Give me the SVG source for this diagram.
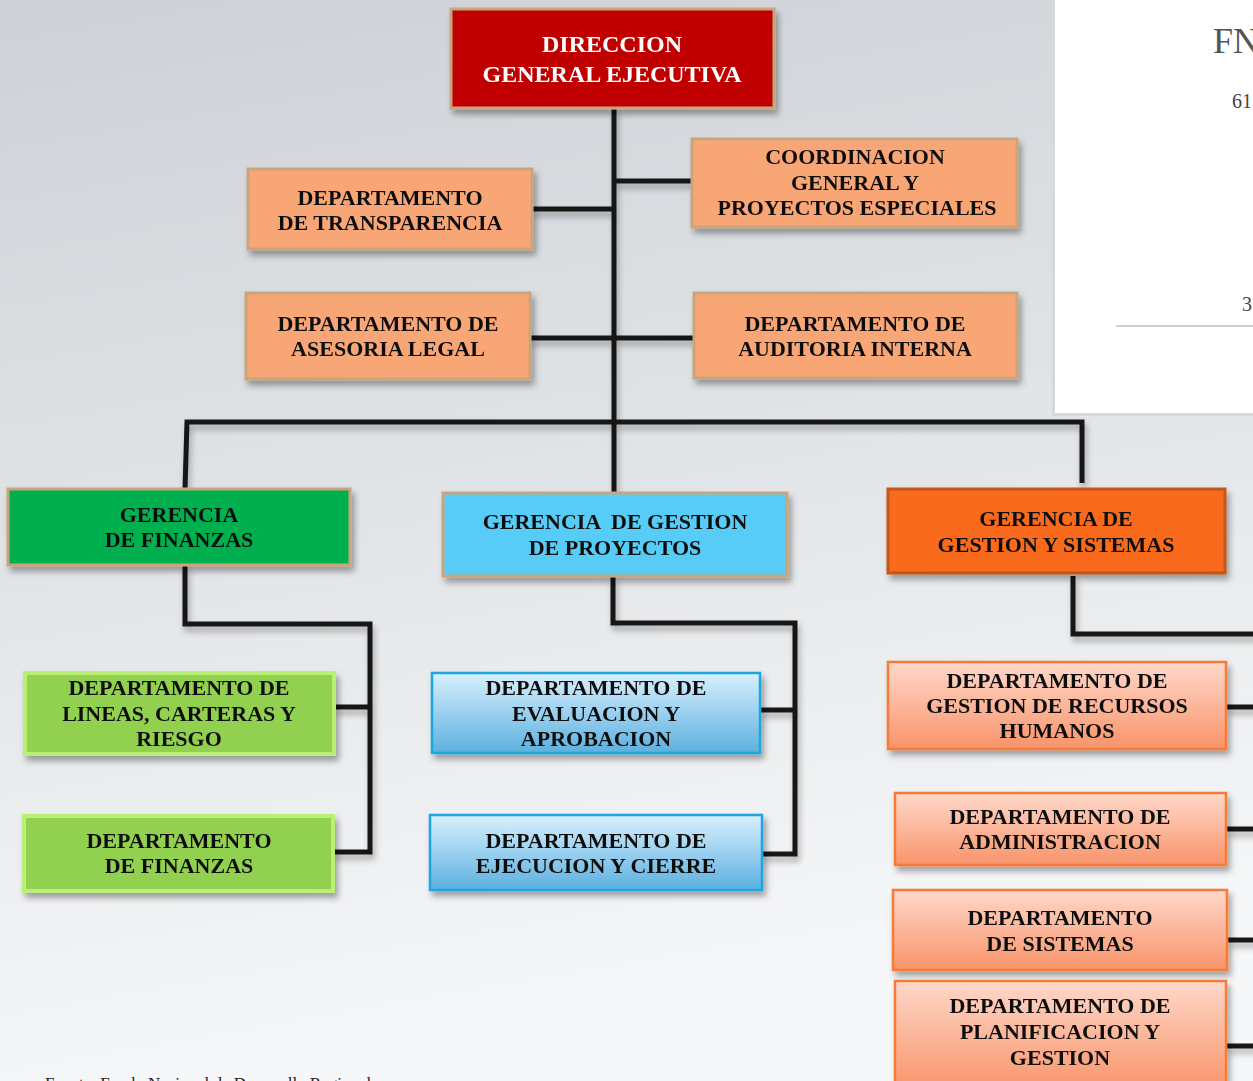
<svg xmlns="http://www.w3.org/2000/svg" width="1253" height="1081" viewBox="0 0 1253 1081">
<defs>
<linearGradient id="bg" x1="0" y1="0" x2="0.2" y2="1">
<stop offset="0" stop-color="#cdd1d6"/>
<stop offset="0.45" stop-color="#dfe2e5"/>
<stop offset="1" stop-color="#f6f7f8"/>
</linearGradient>
<linearGradient id="gBlue" x1="0" y1="0" x2="0" y2="1">
<stop offset="0" stop-color="#d8f0fd"/>
<stop offset="1" stop-color="#5cb0e0"/>
</linearGradient>
<linearGradient id="gPeach" x1="0" y1="0" x2="0" y2="1">
<stop offset="0" stop-color="#ffd8ca"/>
<stop offset="1" stop-color="#f8946a"/>
</linearGradient>
<filter id="sh" x="-10%" y="-20%" width="130%" height="150%">
<feDropShadow dx="3" dy="5" stdDeviation="3" flood-color="#000" flood-opacity="0.35"/>
</filter>
<filter id="lsh" x="-5%" y="-5%" width="110%" height="110%">
<feDropShadow dx="2" dy="5" stdDeviation="3" flood-color="#000" flood-opacity="0.3"/>
</filter>
<style>
.t{font-family:"Liberation Serif","Times New Roman",serif;font-weight:bold;font-size:22px;fill:#111;text-anchor:middle}
.w{fill:#fff;font-size:24px}
.tan{stroke:#c9a57e;stroke-width:3}
.sal{fill:#f9a677}
.lime{fill:#92d050;stroke:#b9ef74;stroke-width:4}
.blue{fill:url(#gBlue);stroke:#1ea5de;stroke-width:2.5}
.peach{fill:url(#gPeach);stroke:#f77a36;stroke-width:2.5}
.c{fill:none;stroke:#141414;stroke-width:5;stroke-linejoin:miter}
</style>
</defs>
<rect width="1253" height="1081" fill="url(#bg)"/>

<!-- side panel -->
<g id="panel">
<rect x="1052" y="-2" width="205" height="418" fill="#d8d8d8"/>
<rect x="1055" y="0" width="200" height="413" fill="#ffffff"/>
<text x="1213" y="53" font-family="Liberation Serif, serif" font-size="36" fill="#555">FN</text>
<text x="1232" y="108" font-family="Liberation Serif, serif" font-size="20" fill="#444">61</text>
<text x="1242" y="311" font-family="Liberation Serif, serif" font-size="20" fill="#444">3</text>
<line x1="1116" y1="326" x2="1253" y2="326" stroke="#cfcfcf" stroke-width="2"/>
</g>

<!-- connectors -->
<g id="connectors" filter="url(#lsh)">
<path class="c" d="M614 108 V492"/>
<path class="c" d="M614 181 H692"/>
<path class="c" d="M532 209 H614"/>
<path class="c" d="M530 338 H694"/>
<path class="c" d="M185 489 L187 422 H1082 V483"/>
<path class="c" d="M185 565 V624 H370 V852 H333"/>
<path class="c" d="M334 707 H370"/>
<path class="c" d="M613 577 V623 H795 V854 H762"/>
<path class="c" d="M761 710 H795"/>
<path class="c" d="M1073 576 V634 H1260"/>
<path class="c" d="M1226 707 H1260"/>
<path class="c" d="M1227 829 H1260"/>
<path class="c" d="M1228 940 H1260"/>
<path class="c" d="M1227 1046 H1260"/>
</g>

<g id="n-direccion" filter="url(#sh)">
<rect x="451" y="9" width="323" height="99" fill="#c00000" class="tan"/>
<text class="t w" x="612" y="52">DIRECCION</text>
<text class="t w" x="612" y="82">GENERAL EJECUTIVA</text>
</g>

<g id="n-transparencia" filter="url(#sh)">
<rect x="248" y="169" width="284" height="80" class="sal tan"/>
<text class="t" x="390" y="205">DEPARTAMENTO</text>
<text class="t" x="390" y="230">DE TRANSPARENCIA</text>
</g>

<g id="n-coordinacion" filter="url(#sh)">
<rect x="692" y="139" width="325" height="88" class="sal tan"/>
<text class="t" x="855" y="164">COORDINACION</text>
<text class="t" x="855" y="190">GENERAL Y</text>
<text class="t" x="857" y="215">PROYECTOS ESPECIALES</text>
</g>

<g id="n-asesoria" filter="url(#sh)">
<rect x="246" y="293" width="284" height="86" class="sal tan"/>
<text class="t" x="388" y="331">DEPARTAMENTO DE</text>
<text class="t" x="388" y="356">ASESORIA LEGAL</text>
</g>

<g id="n-auditoria" filter="url(#sh)">
<rect x="694" y="293" width="323" height="85" class="sal tan"/>
<text class="t" x="855" y="331">DEPARTAMENTO DE</text>
<text class="t" x="855" y="356">AUDITORIA INTERNA</text>
</g>

<g id="n-gerencia-finanzas" filter="url(#sh)">
<rect x="8" y="489" width="342" height="76" fill="#00b04f" class="tan"/>
<text class="t" x="179" y="522">GERENCIA</text>
<text class="t" x="179" y="547">DE FINANZAS</text>
</g>

<g id="n-gerencia-proyectos" filter="url(#sh)">
<rect x="443" y="493" width="344" height="83" fill="#56ccf7" class="tan"/>
<text class="t" x="615" y="529" xml:space="preserve">GERENCIA  DE GESTION</text>
<text class="t" x="615" y="555">DE PROYECTOS</text>
</g>

<g id="n-gerencia-sistemas" filter="url(#sh)">
<rect x="888" y="489" width="337" height="84" fill="#f96b1c" stroke="#c4561a" stroke-width="3"/>
<text class="t" x="1056" y="526">GERENCIA DE</text>
<text class="t" x="1056" y="552">GESTION Y SISTEMAS</text>
</g>

<g id="n-lineas" filter="url(#sh)">
<rect x="25" y="673" width="309" height="81" class="lime"/>
<text class="t" x="179" y="695">DEPARTAMENTO DE</text>
<text class="t" x="179" y="721">LINEAS, CARTERAS Y</text>
<text class="t" x="179" y="746">RIESGO</text>
</g>

<g id="n-dep-finanzas" filter="url(#sh)">
<rect x="24" y="816" width="309" height="75" class="lime"/>
<text class="t" x="179" y="848">DEPARTAMENTO</text>
<text class="t" x="179" y="873">DE FINANZAS</text>
</g>

<g id="n-evaluacion" filter="url(#sh)">
<rect x="432" y="673" width="328" height="80" class="blue"/>
<text class="t" x="596" y="695">DEPARTAMENTO DE</text>
<text class="t" x="596" y="721">EVALUACION Y</text>
<text class="t" x="596" y="746">APROBACION</text>
</g>

<g id="n-ejecucion" filter="url(#sh)">
<rect x="430" y="815" width="332" height="75" class="blue"/>
<text class="t" x="596" y="848">DEPARTAMENTO DE</text>
<text class="t" x="596" y="873">EJECUCION Y CIERRE</text>
</g>

<g id="n-rrhh" filter="url(#sh)">
<rect x="888" y="662" width="338" height="87" class="peach"/>
<text class="t" x="1057" y="688">DEPARTAMENTO DE</text>
<text class="t" x="1057" y="713">GESTION DE RECURSOS</text>
<text class="t" x="1057" y="738">HUMANOS</text>
</g>

<g id="n-administracion" filter="url(#sh)">
<rect x="895" y="793" width="331" height="72" class="peach"/>
<text class="t" x="1060" y="824">DEPARTAMENTO DE</text>
<text class="t" x="1060" y="849">ADMINISTRACION</text>
</g>

<g id="n-sistemas" filter="url(#sh)">
<rect x="893" y="890" width="334" height="80" class="peach"/>
<text class="t" x="1060" y="925">DEPARTAMENTO</text>
<text class="t" x="1060" y="951">DE SISTEMAS</text>
</g>

<g id="n-planificacion" filter="url(#sh)">
<rect x="895" y="981" width="331" height="110" class="peach"/>
<text class="t" x="1060" y="1013">DEPARTAMENTO DE</text>
<text class="t" x="1060" y="1039">PLANIFICACION Y</text>
<text class="t" x="1060" y="1065">GESTION</text>
</g>

<text x="45" y="1089" font-family="Liberation Serif, serif" font-size="17" fill="#222">Fuente: Fondo Nacional de Desarrollo Regional</text>
</svg>
